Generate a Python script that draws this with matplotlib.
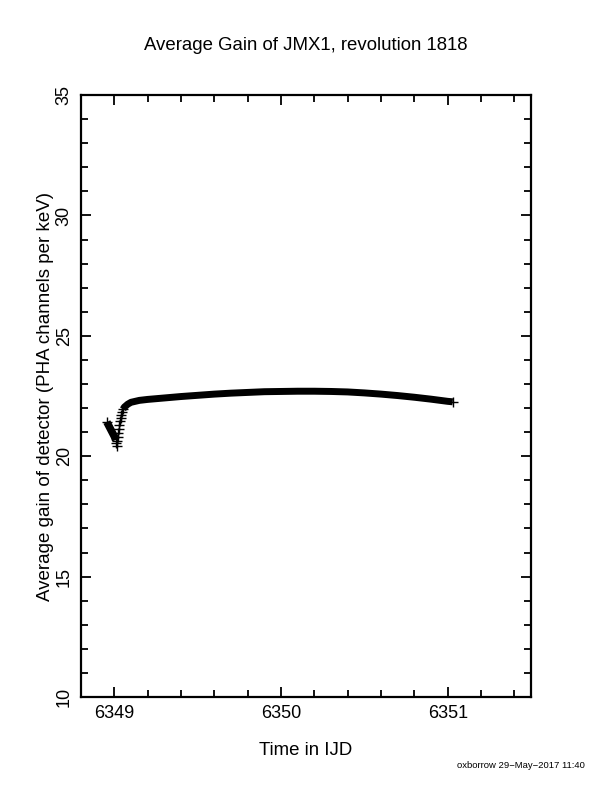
import matplotlib
matplotlib.use("Agg")
import matplotlib.pyplot as plt
from matplotlib.ticker import MultipleLocator

plt.rcParams['font.family'] = ['Liberation Sans', 'DejaVu Sans']

# gain drop right after perigee exit (dense points)
t_descent = [6348.955, 6348.97, 6348.985, 6349.0, 6349.008]
g_descent = [21.42, 21.22, 21.02, 20.82, 20.67]

# recovery, individual points visible
t_rise = [6349.012, 6349.015, 6349.018, 6349.021, 6349.024, 6349.027,
          6349.030, 6349.033, 6349.037, 6349.041, 6349.046, 6349.052]
g_rise = [20.55, 20.42, 20.62, 20.80, 20.98, 21.15,
          21.30, 21.45, 21.60, 21.72, 21.84, 21.95]

# slow drift over the rest of the revolution
t_plateau = [6349.052, 6349.06, 6349.08, 6349.10, 6349.15, 6349.2, 6349.3,
             6349.4, 6349.5, 6349.6, 6349.7, 6349.8, 6349.9, 6350.0,
             6350.1, 6350.2, 6350.3, 6350.4, 6350.5, 6350.6, 6350.7,
             6350.8, 6350.9, 6351.0, 6351.03]
g_plateau = [21.95, 22.04, 22.16, 22.24, 22.32, 22.36, 22.42,
             22.48, 22.53, 22.58, 22.62, 22.65, 22.68, 22.69,
             22.70, 22.70, 22.69, 22.67, 22.63, 22.58, 22.52,
             22.45, 22.37, 22.28, 22.26]

fig = plt.figure(figsize=(6.12, 7.92), dpi=100)
ax = fig.add_axes([0.1324, 0.1199, 0.7353, 0.7601])

# thick band where the '+' markers merge together
ax.plot(t_descent, g_descent, '-', color='black', lw=5.5, solid_capstyle='butt')
ax.plot(t_plateau, g_plateau, '-', color='black', lw=5, solid_capstyle='butt')
ax.plot(t_rise, g_rise, '+', color='black', ms=7, mew=1)
ax.plot(t_plateau[-1:], g_plateau[-1:], '+', color='black', ms=7, mew=1)
ax.plot(t_descent[:1], g_descent[:1], '+', color='black', ms=7, mew=1)

ax.set_xlim(6348.8, 6351.5)
ax.set_ylim(10, 35)
ax.xaxis.set_major_locator(MultipleLocator(1))
ax.xaxis.set_minor_locator(MultipleLocator(0.2))
ax.yaxis.set_major_locator(MultipleLocator(5))
ax.yaxis.set_minor_locator(MultipleLocator(1))
ax.tick_params(which='both', direction='in', top=True, right=True,
               width=1.3, labelsize=13)
ax.tick_params(which='major', length=7.5)
ax.tick_params(which='minor', length=5)
ax.tick_params(axis='x', pad=6)
ax.tick_params(axis='y', pad=6)
for lbl in ax.get_yticklabels():
    lbl.set_rotation(90)
    lbl.set_va('center')
for sp in ax.spines.values():
    sp.set_linewidth(1.6)

ax.set_xlabel("Time in IJD", fontsize=13.4, labelpad=14)
ax.set_ylabel("Average gain of detector (PHA channels per keV)", fontsize=13.5,
              labelpad=1)
fig.text(0.5, 0.943, "Average Gain of JMX1, revolution 1818", fontsize=13.4,
         ha='center', va='center')
fig.text(0.956, 0.033, "oxborrow 29\u2212May\u22122017 11:40", fontsize=6.8,
         ha='right', va='center')

fig.savefig("out.png", dpi=100)
